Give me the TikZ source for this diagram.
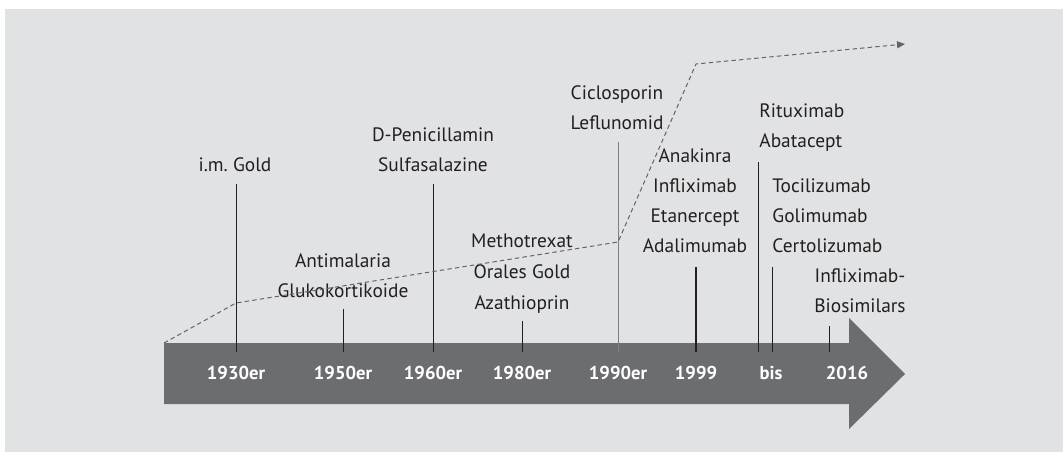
\documentclass[tikz,border=0pt]{standalone}
\usepackage{fontspec}
\setmainfont{PT Sans}
\usetikzlibrary{arrows.meta}
\definecolor{bggray}{RGB}{225,226,228}
\definecolor{arrgray}{RGB}{108,109,113}
\definecolor{txtgray}{RGB}{35,31,32}
\definecolor{dashgray}{RGB}{100,100,104}
\tikzset{tline/.style={x=0.5pt,y=-0.5pt,font=\fontsize{9.7}{12}\selectfont},
  drug/.style={text=txtgray,inner sep=0pt,anchor=base},
  drugl/.style={drug,anchor=base west},
  year/.style={text=white,inner sep=0pt,anchor=base,font=\fontsize{9.3}{12}\selectfont\bfseries},
  tick/.style={draw=txtgray,line width=0.5pt}}

\begin{document}
\begin{tikzpicture}[tline]
    \useasboundingbox (0,0) rectangle (1063,452);
    \fill[bggray] (5,9) rectangle (1063,452);
    % big arrow
    \fill[arrgray] (164,343) -- (849,343) -- (849,318) -- (905,374) -- (849,429)
                   -- (849,404) -- (164,404) -- cycle;
    \foreach \x/\t/\n in {236/1930er/a, 343/1950er/b, 433/1960er/c, 522/1980er/d,
                          618/1990er/e, 696/1999/f, 771/bis/g, 847/2016/h}
      \node[year] (y\n) at (\x,379) {\t};
    % labels
    \node[drug] (imgold) at (235,171) {i.m.~Gold};
    \node[drug] (dpen) at (433,141) {D-Penicillamin};
    \node[drug] (sulf) at (433,171) {Sulfasalazine};
    \node[drug] (antim) at (343,267) {Antimalaria};
    \node[drug] (gluko) at (343,297) {Glukokortikoide};
    \node[drug] (mtx) at (522,247) {Methotrexat};
    \node[drug] (orgold) at (522,278) {Orales Gold};
    \node[drug] (aza) at (522,309) {Azathioprin};
    \node[drug] (ciclo) at (617,99) {Ciclosporin};
    \node[drug] (leflu) at (617,129) {Leflunomid};
    \foreach \t/\y in {Anakinra/162, Infliximab/192, Etanercept/222, Adalimumab/252}
      \node[drug] (\t) at (695,\y) {\t};
    \node[drugl] (ritux) at (759,117) {Rituximab};
    \node[drugl] (abata) at (759,147) {Abatacept};
    \foreach \t/\y in {Tocilizumab/192, Golimumab/222, Certolizumab/252}
      \node[drugl] (\t) at (772,\y) {\t};
    \node[drug] (inflb) at (860,282) {Infliximab-};
    \node[drug] (biosim) at (860,312) {Biosimilars};
    % ticks
    \foreach \x/\top/\n in {236/184/a, 343/309/b, 433/184/c, 522/321/d,
                            618/142/e, 696/267/f, 758/162/g, 772/267/k, 829/326/h} {
      \coordinate (tt\n) at (\x,\top);
      \coordinate (tb\n) at (\x,352);
    }
    \foreach \n in {a,b,c,d,g,k,h} \draw[tick] (tt\n) -- (tb\n);
    \draw[tick,draw=gray] (tte) -- (tbe);
    \draw[tick,line width=1.1pt] (ttf) -- (tbf);
    % trend
    \coordinate (p0) at (164,343);
    \coordinate (p1) at (236,303);
    \coordinate (p2) at (618,242);
    \coordinate (p3) at (696,64);
    \coordinate (p4) at (905,44);
    \draw[dashgray,line width=0.5pt,dash pattern=on 2.2pt off 1.6pt,
          -{Triangle[length=4pt,width=3.5pt]}] (p0) -- (p1) -- (p2) -- (p3) -- (p4);
\end{tikzpicture}
\end{document}
